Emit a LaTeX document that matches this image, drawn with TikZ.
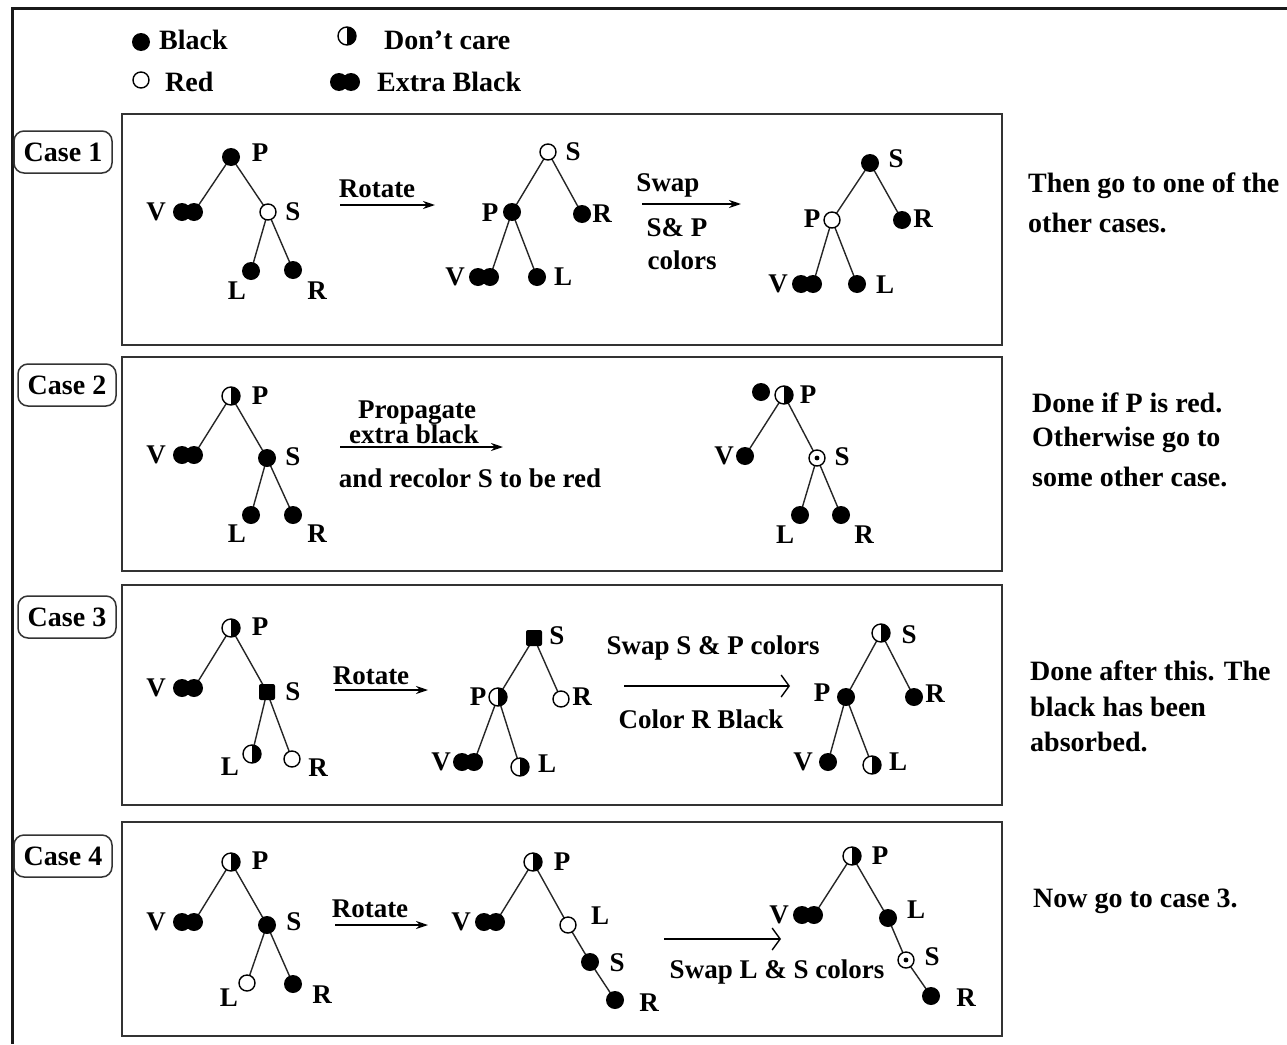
\documentclass[tikz,border=0pt]{standalone}
\usepackage{fontspec}
\setmainfont{Liberation Serif}
\usetikzlibrary{arrows.meta,backgrounds}
\newcommand\myfs{\fontsize{27}{30}\selectfont}
\newcommand\myfsb{\fontsize{28}{32}\selectfont}
\tikzset{
  lbl/.style={font=\myfs\bfseries, inner sep=0pt},
  txt/.style={font=\myfsb\bfseries, inner sep=0pt, anchor=west},
  blk/.style={circle, fill=black, minimum size=18pt, inner sep=0pt},
  blksq/.style={rectangle, rounded corners=2pt, fill=black, minimum size=16pt, inner sep=0pt},
  rd/.style={circle, draw=black, line width=1.4pt, fill=white, minimum size=16pt, inner sep=0pt},
  rddot/.style={rd, path picture={\fill[black] (path picture bounding box.center) circle (2.4pt);}},
  dc/.style={circle, draw=black, line width=1.4pt, fill=white, minimum size=18pt, inner sep=0pt,
    path picture={\fill[black] (path picture bounding box.north) rectangle (path picture bounding box.south east);}},
  xb/.style={rectangle, minimum width=30pt, minimum height=18pt, inner sep=0pt,
    path picture={\fill[black] ([xshift=-6pt]path picture bounding box.center) circle (9pt);
                  \fill[black] ([xshift=6pt]path picture bounding box.center) circle (9pt);}},
  edge/.style={line width=1.4pt, black!85},
  casebox/.style={draw=black!80, line width=1.5pt},
  caselbl/.style={draw=black!80, line width=1.5pt, rounded corners=10pt, minimum width=98pt,
    minimum height=42pt, inner sep=0pt, font=\myfsb\bfseries},
  thickarr/.style={line width=2.6pt, -{Stealth[length=12pt,width=8pt]}},
  midarr/.style={line width=2pt, -{Stealth[length=12pt,width=8pt]}},
  openarr/.style={line width=1.4pt, -{Straight Barb[length=8pt,width=22pt,line width=1.4pt]}},
}
\begin{document}
\begin{tikzpicture}[x=1pt,y=-1pt]
\useasboundingbox (0,0) rectangle (1287,1044);
\begin{scope}[on background layer]
\fill[white] (0,0) rectangle (1287,1044);
\end{scope}
% outer frame (top and left visible)
\draw[line width=3pt, black!90] (1287,8) -- (12,8) -- (12,1044);

% legend
\node[blk] (lgB) at (141,42) {};
\node[txt] (lgBt) at (159,40) {Black};
\node[rd] (lgR) at (141,80) {};
\node[txt] (lgRt) at (165,82) {Red};
\node[dc] (lgD) at (347,36) {};
\node[txt] (lgDt) at (384,40) {Don’t care};
\node[xb] (lgX) at (345,82) {};
\node[txt] (lgXt) at (377,82) {Extra Black};

% case labels
\node[caselbl] (k1) at (63,152) {Case 1};
\node[caselbl] (k2) at (67,385) {Case 2};
\node[caselbl] (k3) at (67,617) {Case 3};
\node[caselbl] (k4) at (63,856) {Case 4};

% case boxes
\draw[casebox] (122,114) rectangle (1002,345);
\draw[casebox] (122,357) rectangle (1002,571);
\draw[casebox] (122,585) rectangle (1002,805);
\draw[casebox] (122,822) rectangle (1002,1036);

% ================= CASE 1 =================
\node[blk] (aP) at (231,157) {};
\node[xb]  (aV) at (188,212) {};
\node[rd]  (aS) at (268,212) {};
\node[blk] (aL) at (251,271) {};
\node[blk] (aR) at (293,270) {};
\node[lbl] (aPl) at (260,153) {P};
\node[lbl] (aVl) at (156,212) {V};
\node[lbl] (aSl) at (293,212) {S};
\node[lbl] (aLl) at (237,291) {L};
\node[lbl] (aRl) at (317,291) {R};
\coordinate (a1s) at (340,205); \coordinate (a1e) at (435,205);
\draw[thickarr] (a1s) -- (a1e);
\node[lbl] (a1t) at (377,189) {Rotate};

\node[rd]  (bS) at (548,152) {};
\node[blk] (bP) at (512,212) {};
\node[blk] (bR) at (582,214) {};
\node[xb]  (bV) at (484,277) {};
\node[blk] (bL) at (537,277) {};
\node[lbl] (bSl) at (573,152) {S};
\node[lbl] (bPl) at (490,213) {P};
\node[lbl] (bRl) at (602,214) {R};
\node[lbl] (bVl) at (455,277) {V};
\node[lbl] (bLl) at (563,277) {L};
\coordinate (b1s) at (642,204); \coordinate (b1e) at (741,204);
\draw[thickarr] (b1s) -- (b1e);
\node[lbl] (b1t) at (668,185) {Swap};
\node[lbl] (b2t) at (677,228) {S\& P};
\node[lbl] (b3t) at (682,260) {colors};

\node[blk] (cS) at (870,163) {};
\node[rd]  (cP) at (832,220) {};
\node[blk] (cR) at (902,220) {};
\node[xb]  (cV) at (807,284) {};
\node[blk] (cL) at (857,284) {};
\node[lbl] (cSl) at (896,159) {S};
\node[lbl] (cPl) at (812,219) {P};
\node[lbl] (cRl) at (923,219) {R};
\node[lbl] (cVl) at (778,284) {V};
\node[lbl] (cLl) at (885,285) {L};

\node[txt] (t1a) at (1028,186) {Then go to one of the};
\node[txt] (t1b) at (1028,223) {other cases.};

% ================= CASE 2 =================
\node[dc]  (dP) at (231,396) {};
\node[xb]  (dV) at (188,455) {};
\node[blk] (dS) at (267,458) {};
\node[blk] (dL) at (251,515) {};
\node[blk] (dR) at (293,515) {};
\node[lbl] (dPl) at (260,396) {P};
\node[lbl] (dVl) at (156,455) {V};
\node[lbl] (dSl) at (293,457) {S};
\node[lbl] (dLl) at (237,534) {L};
\node[lbl] (dRl) at (317,534) {R};
\coordinate (d1s) at (340,447); \coordinate (d1e) at (503,447);
\draw[midarr] (d1s) -- (d1e);
\node[lbl] (d1t) at (417,413) {Propagate};
\node[lbl] (d2t) at (414,434) {extra black};
\node[lbl] (d3t) at (470,478) {and recolor S to be red};

\node[blk] (eX) at (761,392) {};
\node[dc]  (eP) at (784,395) {};
\node[blk] (eV) at (745,456) {};
\node[rddot] (eS) at (817,458) {};
\node[blk] (eL) at (800,515) {};
\node[blk] (eR) at (841,515) {};
\node[lbl] (ePl) at (808,395) {P};
\node[lbl] (eVl) at (724,456) {V};
\node[lbl] (eSl) at (842,457) {S};
\node[lbl] (eLl) at (785,535) {L};
\node[lbl] (eRl) at (864,535) {R};

\node[txt] (t2a) at (1032,403) {Done if P is red.};
\node[txt] (t2b) at (1032,440) {Otherwise go to};
\node[txt] (t2c) at (1032,477) {some other case.};

% ================= CASE 3 =================
\node[dc]    (fP) at (231,628) {};
\node[xb]    (fV) at (188,688) {};
\node[blksq] (fS) at (267,692) {};
\node[dc]    (fL) at (252,754) {};
\node[rd]    (fR) at (292,759) {};
\node[lbl] (fPl) at (260,627) {P};
\node[lbl] (fVl) at (156,688) {V};
\node[lbl] (fSl) at (293,692) {S};
\node[lbl] (fLl) at (230,767) {L};
\node[lbl] (fRl) at (318,768) {R};
\coordinate (f1s) at (335,690); \coordinate (f1e) at (428,690);
\draw[thickarr] (f1s) -- (f1e);
\node[lbl] (f1t) at (371,676) {Rotate};

\node[blksq] (gS) at (534,638) {};
\node[dc]    (gP) at (498,697) {};
\node[rd]    (gR) at (561,699) {};
\node[xb]    (gV) at (468,762) {};
\node[dc]    (gL) at (520,767) {};
\node[lbl] (gSl) at (557,636) {S};
\node[lbl] (gPl) at (478,697) {P};
\node[lbl] (gRl) at (582,697) {R};
\node[lbl] (gVl) at (441,762) {V};
\node[lbl] (gLl) at (547,764) {L};
\coordinate (g1s) at (624,686); \coordinate (g1e) at (790,686);
\draw[openarr] (g1s) -- (g1e);
\node[lbl] (g1t) at (713,648) {Swap S \& P colors};
\node[lbl] (g2t) at (701,719) {Color R Black};

\node[dc]  (hS) at (881,633) {};
\node[blk] (hP) at (846,697) {};
\node[blk] (hR) at (914,697) {};
\node[blk] (hV) at (828,762) {};
\node[dc]  (hL) at (872,765) {};
\node[lbl] (hSl) at (909,635) {S};
\node[lbl] (hPl) at (822,693) {P};
\node[lbl] (hRl) at (935,694) {R};
\node[lbl] (hVl) at (803,762) {V};
\node[lbl] (hLl) at (898,762) {L};

\node[txt] (t3a) at (1030,671) {Done after this. The};
\node[txt] (t3b) at (1030,707) {black has been};
\node[txt] (t3c) at (1030,742) {absorbed.};

% ================= CASE 4 =================
\node[dc]  (iP) at (231,862) {};
\node[xb]  (iV) at (188,922) {};
\node[blk] (iS) at (267,925) {};
\node[rd]  (iL) at (247,983) {};
\node[blk] (iR) at (293,984) {};
\node[lbl] (iPl) at (260,861) {P};
\node[lbl] (iVl) at (156,922) {V};
\node[lbl] (iSl) at (294,922) {S};
\node[lbl] (iLl) at (229,998) {L};
\node[lbl] (iRl) at (322,995) {R};
\coordinate (i1s) at (335,925); \coordinate (i1e) at (428,925);
\draw[thickarr] (i1s) -- (i1e);
\node[lbl] (i1t) at (370,909) {Rotate};

\node[dc]  (jP) at (533,862) {};
\node[xb]  (jV) at (490,922) {};
\node[rd]  (jL) at (568,925) {};
\node[blk] (jS) at (590,962) {};
\node[blk] (jR) at (615,1000) {};
\node[lbl] (jPl) at (562,862) {P};
\node[lbl] (jVl) at (461,922) {V};
\node[lbl] (jLl) at (600,916) {L};
\node[lbl] (jSl) at (617,963) {S};
\node[lbl] (jRl) at (649,1003) {R};
\coordinate (j1s) at (664,939); \coordinate (j1e) at (781,939);
\draw[openarr] (j1s) -- (j1e);
\node[lbl] (j1t) at (777,972) {Swap L \& S colors};

\node[dc]    (kP) at (852,856) {};
\node[xb]    (kV) at (808,915) {};
\node[blk]   (kL) at (888,918) {};
\node[rddot] (kS) at (906,960) {};
\node[blk]   (kR) at (931,996) {};
\node[lbl] (kPl) at (880,856) {P};
\node[lbl] (kVl) at (779,915) {V};
\node[lbl] (kLl) at (916,910) {L};
\node[lbl] (kSl) at (932,957) {S};
\node[lbl] (kRl) at (966,998) {R};

\node[txt] (t4a) at (1033,901) {Now go to case 3.};

% ================= EDGES =================
\begin{scope}[on background layer]
\draw[edge] ([xshift=6pt]aV.center) -- (aP.center) -- (aS.center);
\draw[edge] (aL.center) -- (aS.center) -- (aR.center);
\draw[edge] (bP.center) -- (bS.center) -- (bR.center);
\draw[edge] ([xshift=6pt]bV.center) -- (bP.center) -- (bL.center);
\draw[edge] (cP.center) -- (cS.center) -- (cR.center);
\draw[edge] ([xshift=6pt]cV.center) -- (cP.center) -- (cL.center);

\draw[edge] ([xshift=6pt]dV.center) -- (dP.center) -- (dS.center);
\draw[edge] (dL.center) -- (dS.center) -- (dR.center);
\draw[edge] (eV.center) -- (eP.center) -- (eS.center);
\draw[edge] (eL.center) -- (eS.center) -- (eR.center);

\draw[edge] ([xshift=6pt]fV.center) -- (fP.center) -- (fS.center);
\draw[edge] (fL.center) -- (fS.center) -- (fR.center);
\draw[edge] (gP.center) -- (gS.center) -- (gR.center);
\draw[edge] ([xshift=6pt]gV.center) -- (gP.center) -- (gL.center);
\draw[edge] (hP.center) -- (hS.center) -- (hR.center);
\draw[edge] (hV.center) -- (hP.center) -- (hL.center);

\draw[edge] ([xshift=6pt]iV.center) -- (iP.center) -- (iS.center);
\draw[edge] (iL.center) -- (iS.center) -- (iR.center);
\draw[edge] ([xshift=6pt]jV.center) -- (jP.center) -- (jL.center) -- (jS.center) -- (jR.center);
\draw[edge] ([xshift=6pt]kV.center) -- (kP.center) -- (kL.center) -- (kS.center) -- (kR.center);
\end{scope}
\end{tikzpicture}
\end{document}
